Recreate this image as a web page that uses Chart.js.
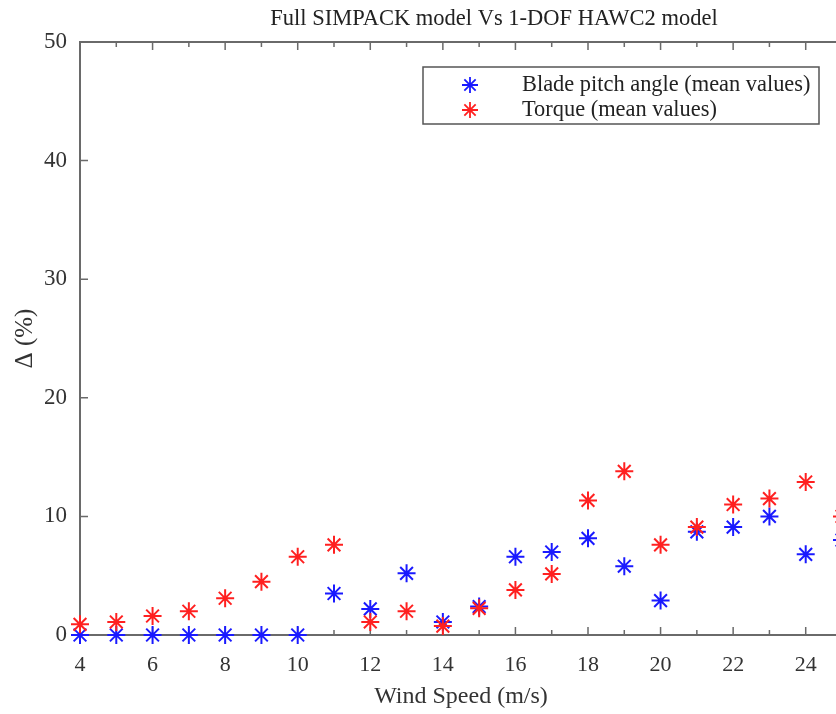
<!DOCTYPE html>
<html>
<head>
<meta charset="utf-8">
<title>Full SIMPACK model Vs 1-DOF HAWC2 model</title>
<script src="https://cdn.jsdelivr.net/npm/chart.js@4.4.1/dist/chart.umd.min.js"></script>
<style>
  html, body { margin: 0; padding: 0; background: #fff; overflow: hidden; }
  #wrap { width: 836px; height: 714px; overflow: hidden; }
</style>
</head>
<body>
<div id="wrap"><canvas id="myChart" width="900" height="714"></canvas></div>
<script>
// wind speeds (m/s)
const windSpeed = [4, 5, 6, 7, 8, 9, 10, 11, 12, 13, 14, 15, 16, 17, 18, 19, 20, 21, 22, 23, 24, 25];
// relative difference (%) between the two models
const pitchDelta = [0, 0, 0, 0, 0, 0, 0, 3.5, 2.2, 5.2, 1.1, 2.4, 6.6, 7.0, 8.15, 5.8, 2.9, 8.7, 9.1, 10.0, 6.8, 8.0];
const torqueDelta = [0.9, 1.1, 1.6, 2.0, 3.1, 4.5, 6.6, 7.6, 1.1, 2.0, 0.75, 2.25, 3.8, 5.15, 11.35, 13.8, 7.6, 9.1, 11.0, 11.5, 12.9, 10.0];
const xTicks = [4, 6, 8, 10, 12, 14, 16, 18, 20, 22, 24];
const yTicks = [0, 10, 20, 30, 40, 50];
const chartTitle = 'Full SIMPACK model Vs 1-DOF HAWC2 model';

const serif = 'Liberation Serif, Times New Roman, serif';
const textColor = '#333';
const axisColor = '#6a6a6a';

function toPoints(xs, ys) {
    return xs.map((x, i) => ({ x: x, y: ys[i] }));
}

// matlab-style box with inward ticks, title and legend inside the plot
const boxPlugin = {
    id: 'boxPlugin',
    beforeDatasetsDraw(chart) {
        const ctx = chart.ctx;
        const area = chart.chartArea;
        const xs = chart.scales.x;
        const ys = chart.scales.y;
        ctx.save();
        ctx.strokeStyle = axisColor;
        ctx.lineWidth = 2;
        ctx.strokeRect(area.left, area.top, area.right - area.left, area.bottom - area.top);

        // inward ticks: long on labelled values, short in between
        ctx.lineWidth = 1.5;
        ctx.beginPath();
        windSpeed.forEach(v => {
            const px = xs.getPixelForValue(v);
            const len = xTicks.includes(v) ? 8 : 5;
            ctx.moveTo(px, area.bottom);
            ctx.lineTo(px, area.bottom - len);
            ctx.moveTo(px, area.top);
            ctx.lineTo(px, area.top + len);
        });
        yTicks.forEach(v => {
            const py = ys.getPixelForValue(v);
            ctx.moveTo(area.left, py);
            ctx.lineTo(area.left + 8, py);
        });
        ctx.stroke();

        // title
        ctx.fillStyle = '#222';
        ctx.font = '22.5px ' + serif;
        ctx.textAlign = 'center';
        ctx.textBaseline = 'middle';
        ctx.fillText(chartTitle, 494, 19);
        ctx.restore();
    },
    afterDatasetsDraw(chart) {
        const ctx = chart.ctx;
        ctx.save();
        const lx = 423, ly = 67, lw = 396, lh = 57;
        ctx.fillStyle = '#fff';
        ctx.fillRect(lx, ly, lw, lh);
        ctx.strokeStyle = '#555';
        ctx.lineWidth = 1.5;
        ctx.strokeRect(lx, ly, lw, lh);
        ctx.font = '22.4px ' + serif;
        ctx.textBaseline = 'middle';
        ctx.textAlign = 'left';
        chart.data.datasets.forEach((ds, i) => {
            const rowY = ly + 18 + i * 25;
            ctx.strokeStyle = ds.borderColor;
            ctx.fillStyle = ds.borderColor;
            ctx.lineWidth = 1.8;
            Chart.helpers.drawPoint(ctx, { pointStyle: 'star', radius: 8, rotation: 0, borderWidth: 1.8 }, lx + 47, rowY);
            ctx.fillStyle = '#222';
            ctx.fillText(ds.label, lx + 99, rowY);
        });
        ctx.restore();
    }
};

const ctx = document.getElementById('myChart');

new Chart(ctx, {
    type: 'scatter',
    data: {
        datasets: [
            {
                label: 'Blade pitch angle (mean values)',
                data: toPoints(windSpeed, pitchDelta),
                pointStyle: 'star',
                pointRadius: 9,
                pointBorderWidth: 2,
                borderColor: '#1a1aff',
                backgroundColor: '#1a1aff',
                clip: false,
                order: 1
            },
            {
                label: 'Torque (mean values)',
                data: toPoints(windSpeed, torqueDelta),
                pointStyle: 'star',
                pointRadius: 9,
                pointBorderWidth: 2,
                borderColor: '#ff2020',
                backgroundColor: '#ff2020',
                clip: false,
                order: 0
            }
        ]
    },
    options: {
        responsive: false,
        animation: false,
        devicePixelRatio: 1,
        layout: { padding: { left: 0, right: 58, top: 42, bottom: 0 } },
        plugins: {
            legend: { display: false },
            tooltip: { enabled: false },
            title: { display: false }
        },
        scales: {
            x: {
                type: 'linear',
                min: 4,
                max: 25,
                grid: { display: false, drawTicks: false },
                border: { display: false },
                afterBuildTicks(scale) {
                    scale.ticks = xTicks.map(v => ({ value: v }));
                },
                ticks: {
                    autoSkip: false,
                    maxRotation: 0,
                    padding: 17,
                    color: textColor,
                    font: { family: serif, size: 22 }
                },
                title: {
                    display: true,
                    text: 'Wind Speed (m/s)',
                    color: textColor,
                    font: { family: serif, size: 24 },
                    padding: { top: 0, bottom: 3 }
                },
                afterFit(scale) { scale.height = 79; }
            },
            y: {
                type: 'linear',
                min: 0,
                max: 50,
                grid: { display: false, drawTicks: false },
                border: { display: false },
                afterBuildTicks(scale) {
                    scale.ticks = yTicks.map(v => ({ value: v }));
                },
                ticks: {
                    padding: 13,
                    color: textColor,
                    font: { family: serif, size: 23 }
                },
                title: {
                    display: true,
                    text: 'Δ (%)',
                    color: textColor,
                    font: { family: serif, size: 25 },
                    padding: { top: 10, bottom: 0 }
                },
                afterFit(scale) { scale.width = 80; }
            }
        }
    },
    plugins: [boxPlugin]
});
</script>
</body>
</html>
